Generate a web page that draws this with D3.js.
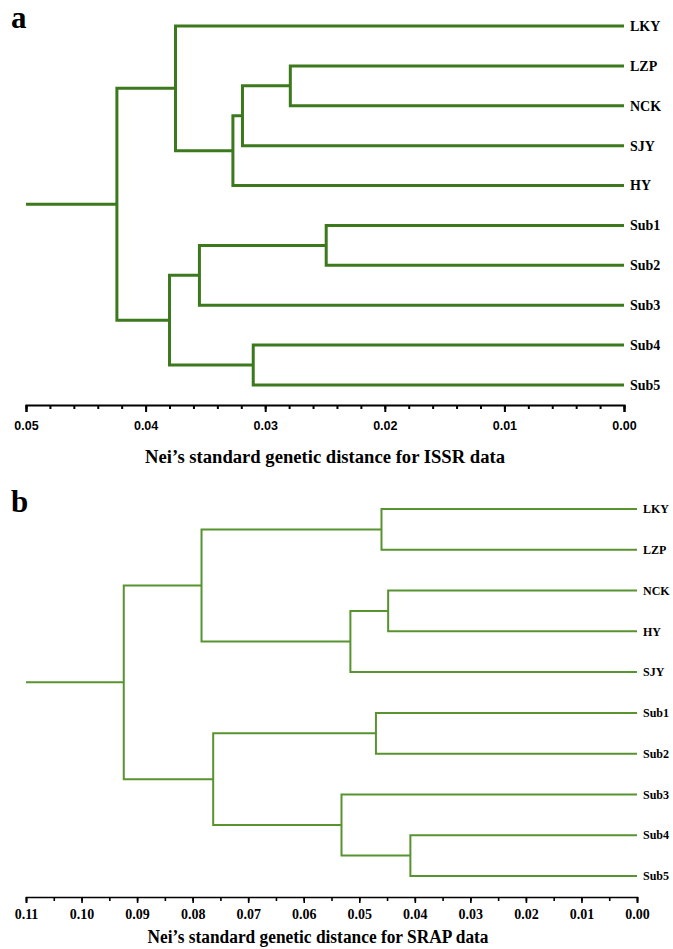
<!DOCTYPE html>
<html>

<head>
    <meta charset="utf-8">
    <script src="https://cdn.jsdelivr.net/npm/d3@7"></script>
    <style>
        body {
            margin: 0;
            background: #fff;
        }

        text {
            fill: black;
            font-family: "Liberation Serif", "Times New Roman", serif;
            font-weight: bold;
        }
    </style>
</head>

<body>

    <script>

        // panel a : ISSR data
        var leavesA = ["LKY", "LZP", "NCK", "SJY", "HY", "Sub1", "Sub2", "Sub3", "Sub4", "Sub5"];
        var mergesA = [            // [first child, second child, distance], clusters are c0, c1, ...
            ["LZP", "NCK", 0.0279],
            ["c0", "SJY", 0.0319],
            ["c1", "HY", 0.0327],
            ["LKY", "c2", 0.0375],
            ["Sub1", "Sub2", 0.0249],
            ["c4", "Sub3", 0.0355],
            ["Sub4", "Sub5", 0.0310],
            ["c5", "c6", 0.0380],
            ["c3", "c7", 0.0424]
        ];
        var stemA = 0.05;
        var ticksA = [0.05, 0.04, 0.03, 0.02, 0.01, 0.00];

        // panel b : SRAP data
        var leavesB = ["LKY", "LZP", "NCK", "HY", "SJY", "Sub1", "Sub2", "Sub3", "Sub4", "Sub5"];
        var mergesB = [
            ["LKY", "LZP", 0.0460],
            ["NCK", "HY", 0.0448],
            ["c1", "SJY", 0.0516],
            ["c0", "c2", 0.0784],
            ["Sub1", "Sub2", 0.0470],
            ["Sub4", "Sub5", 0.0408],
            ["Sub3", "c5", 0.0532],
            ["c4", "c6", 0.0763],
            ["c3", "c7", 0.0924]
        ];
        var stemB = 0.11;
        var ticksB = [0.11, 0.10, 0.09, 0.08, 0.07, 0.06, 0.05, 0.04, 0.03, 0.02, 0.01, 0.00];

        var svg = d3.select('body')
            .append('svg')
            .attr('width', 673)
            .attr('height', 949);

        // turn the merge list into a d3 hierarchy
        function buildTree(leaves, merges) {
            var nodes = {};
            leaves.forEach(function (name) { nodes[name] = { name: name, dist: 0 }; });
            var last;
            merges.forEach(function (m, i) {
                last = { name: 'c' + i, dist: m[2], children: [nodes[m[0]], nodes[m[1]]] };
                nodes[last.name] = last;
            });
            return d3.hierarchy(last);
        }

        function drawTree(o) {
            var x = d3.scaleLinear().domain([o.stem, 0]).range(o.xRange);
            var y = d3.scalePoint().domain(o.leaves).range(o.yRange);

            var root = buildTree(o.leaves, o.merges);
            root.eachAfter(function (d) {
                d.px = x(d.data.dist);
                d.py = d.children ? (d.children[0].py + d.children[1].py) / 2 : y(d.data.name);
            });

            var g = svg.append('g');

            // elbows
            g.selectAll('path.link')
                .data(root.descendants().filter(function (d) { return d.children; }))
                .enter().append('path')
                .attr('class', 'link')
                .attr('fill', 'none')
                .attr('stroke', o.colour)
                .attr('stroke-width', o.lineWidth)
                .attr('d', function (d) {
                    var a = d.children[0], b = d.children[1];
                    return 'M' + a.px + ',' + a.py + 'H' + d.px + 'V' + b.py + 'H' + b.px;
                });

            // root stem
            g.append('path')
                .attr('fill', 'none')
                .attr('stroke', o.colour)
                .attr('stroke-width', o.lineWidth)
                .attr('d', 'M' + x(o.stem) + ',' + root.py + 'H' + root.px);

            // leaf names
            g.selectAll('text.leaf')
                .data(root.leaves())
                .enter().append('text')
                .attr('class', 'leaf')
                .attr('x', x(0) + o.labelGap)
                .attr('y', function (d) { return d.py; })
                .attr('dy', '.35em')
                .style('font-size', o.labelSize + 'px')
                .text(function (d) { return d.data.name; });

            // minor ticks
            svg.append('g')
                .attr('transform', 'translate(0,' + o.axisY + ')')
                .call(d3.axisBottom(x).tickValues(x.ticks(o.minorCount)).tickSize(o.minorSize).tickFormat(''))
                .call(function (a) {
                    a.select('.domain').remove();
                    a.selectAll('line').attr('stroke-width', o.axisWidth);
                });

            // major ticks
            var ax = svg.append('g')
                .attr('transform', 'translate(0,' + o.axisY + ')')
                .call(d3.axisBottom(x).tickValues(o.ticks).tickSize(o.majorSize)
                    .tickSizeOuter(o.majorSize).tickPadding(o.tickPad).tickFormat(d3.format('.2f')));
            ax.select('.domain').attr('stroke-width', o.axisWidth);
            ax.selectAll('line').attr('stroke-width', o.axisWidth);
            ax.selectAll('text')
                .style('font-family', o.tickFont)
                .style('font-size', o.tickSize + 'px')
                .style('font-weight', 'bold');

            // axis title
            svg.append('text')
                .attr('x', o.titleX)
                .attr('y', o.titleY)
                .attr('text-anchor', 'middle')
                .attr('textLength', o.titleLen)
                .attr('lengthAdjust', 'spacingAndGlyphs')
                .style('font-size', o.titleSize + 'px')
                .text(o.title);

            // panel letter
            svg.append('text')
                .attr('x', 11)
                .attr('y', o.letterY)
                .style('font-size', '31px')
                .text(o.letter);
        }

        drawTree({
            leaves: leavesA, merges: mergesA, stem: stemA, ticks: ticksA,
            xRange: [26, 624], yRange: [26, 385], axisY: 405,
            colour: '#3c781c', lineWidth: 3, axisWidth: 2,
            minorCount: 25, minorSize: 4, majorSize: 7, tickPad: 9,
            tickFont: '"Liberation Sans", Arial, sans-serif', tickSize: 12.5,
            labelGap: 6, labelSize: 14,
            title: 'Nei\u2019s standard genetic distance for ISSR data',
            titleX: 325, titleY: 463, titleLen: 360, titleSize: 18,
            letter: 'a', letterY: 28
        });

        drawTree({
            leaves: leavesB, merges: mergesB, stem: stemB, ticks: ticksB,
            xRange: [26, 637], yRange: [509, 876], axisY: 897,
            colour: '#57932f', lineWidth: 2, axisWidth: 1.6,
            minorCount: 22, minorSize: 4, majorSize: 6, tickPad: 6,
            tickFont: '"Liberation Serif", "Times New Roman", serif', tickSize: 14,
            labelGap: 6, labelSize: 12,
            title: 'Nei\u2019s standard genetic distance for SRAP data',
            titleX: 318, titleY: 943, titleLen: 341, titleSize: 18,
            letter: 'b', letterY: 512
        });
    </script>

</body>

</html>
